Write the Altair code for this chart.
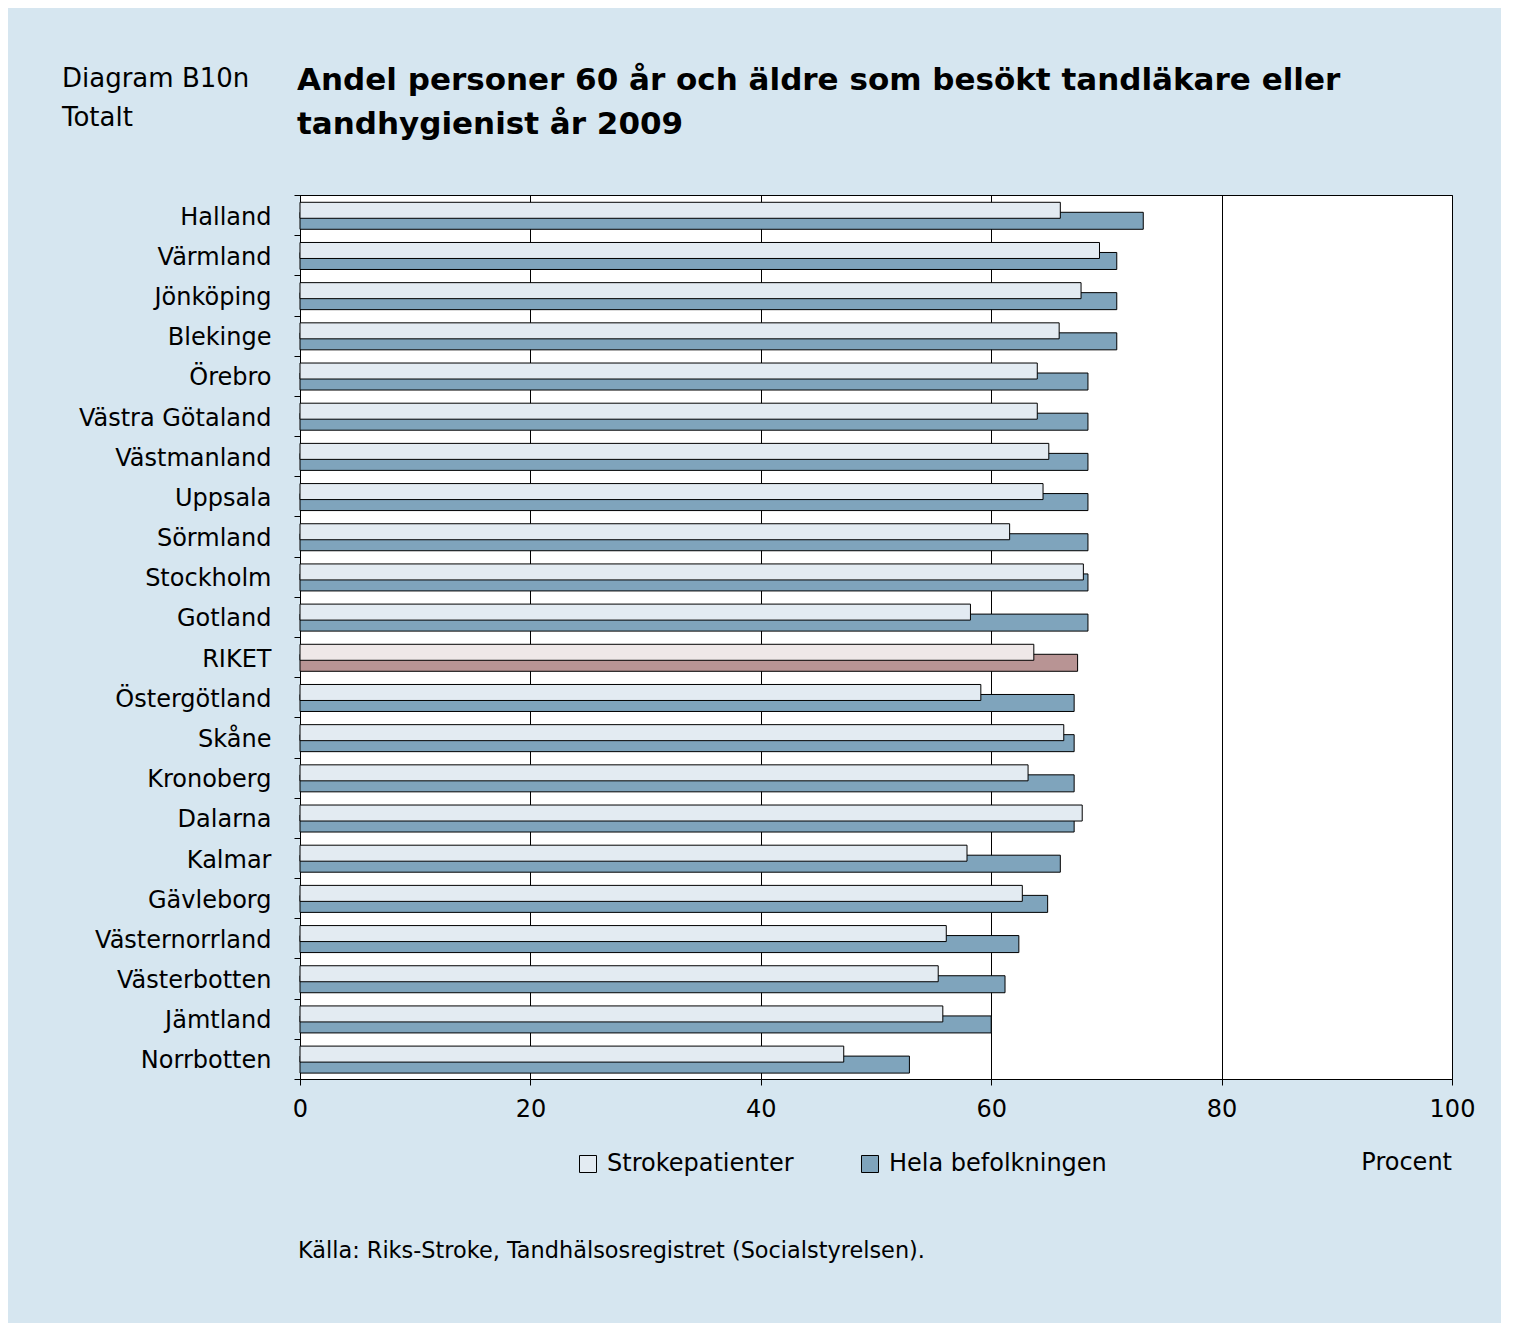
import altair as alt
import pandas as pd

regions = ["Halland", "Värmland", "Jönköping", "Blekinge", "Örebro", "Västra Götaland",
           "Västmanland", "Uppsala", "Sörmland", "Stockholm", "Gotland", "RIKET",
           "Östergötland", "Skåne", "Kronoberg", "Dalarna", "Kalmar", "Gävleborg",
           "Västernorrland", "Västerbotten", "Jämtland", "Norrbotten"]
stroke_vals = [66.0, 69.4, 67.8, 65.9, 64.0, 64.0, 65.0, 64.5, 61.6, 68.0, 58.2, 63.7,
               59.1, 66.3, 63.2, 67.9, 57.9, 62.7, 56.1, 55.4, 55.8, 47.2]
hela_vals = [73.2, 70.9, 70.9, 70.9, 68.4, 68.4, 68.4, 68.4, 68.4, 68.4, 68.4, 67.5,
             67.2, 67.2, 67.2, 67.2, 66.0, 64.9, 62.4, 61.2, 60.0, 52.9]
series = ["Strokepatienter", "Hela befolkningen"]
x_ticks = [0, 20, 40, 60, 80, 100]

rows = []
for r, s, h in zip(regions, stroke_vals, hela_vals):
    suffix = " RIKET" if r == "RIKET" else ""
    rows.append({"region": r, "serie": series[0], "value": s, "key": series[0] + suffix})
    rows.append({"region": r, "serie": series[1], "value": h, "key": series[1] + suffix})
df = pd.DataFrame(rows)

FONT = "DejaVu Sans"
fill_scale = alt.Scale(
    domain=["Strokepatienter", "Hela befolkningen", "Strokepatienter RIKET", "Hela befolkningen RIKET"],
    range=["#e3ebf2", "#7fa4bc", "#efe8e8", "#b89494"],
)

x_enc = alt.X("value:Q", scale=alt.Scale(domain=[0, 100], nice=False),
              axis=alt.Axis(values=x_ticks, grid=True, gridColor="black", gridOpacity=1,
                            gridWidth=1, tickSize=6, tickColor="black", domainColor="black",
                            labelFontSize=24, labelFont=FONT, labelColor="black",
                            labelFlush=False, labelPadding=12, title=None))
y_enc = alt.Y("region:N", sort=regions, scale=alt.Scale(paddingInner=0, paddingOuter=0),
              axis=alt.Axis(title=None, tickBand="extent", tickSize=6, tickColor="black",
                            domainColor="black", labelFontSize=24, labelFont=FONT,
                            labelColor="black", labelPadding=23, labelLimit=0,
                            labelOffset=2))
fill_enc = alt.Fill("key:N", scale=fill_scale,
                    legend=alt.Legend(values=series, orient="none", legendX=276, legendY=957,
                                      direction="horizontal", title=None, symbolType="square",
                                      symbolSize=289, symbolStrokeColor="black",
                                      symbolStrokeWidth=1, symbolOpacity=1,
                                      labelFontSize=24, labelFont=FONT, labelColor="black",
                                      labelLimit=0, labelOffset=7, columnPadding=64))

base = alt.Chart(df)
hela_bars = base.transform_filter(alt.datum.serie == series[1]).mark_bar(
    size=17, yOffset=5.7, stroke="black", strokeWidth=1, opacity=1
).encode(x=x_enc, y=y_enc, fill=fill_enc)
stroke_bars = base.transform_filter(alt.datum.serie == series[0]).mark_bar(
    size=16, yOffset=-4.8, stroke="black", strokeWidth=1, opacity=1
).encode(x=x_enc, y=y_enc, fill=fill_enc)

def text_layer(t, x, y, size, weight="normal", align="left", line_height=None):
    kw = dict(font=FONT, fontSize=size, fontWeight=weight, align=align,
              baseline="middle", color="black")
    if line_height:
        kw["lineHeight"] = line_height
    return alt.Chart(pd.DataFrame({"t": [t]})).mark_text(**kw).encode(
        text="t:N", x=alt.value(x), y=alt.value(y))

diag = text_layer(["Diagram B10n", "Totalt"], -238, -116, 26, line_height=39)
title = text_layer(["Andel personer 60 år och äldre som besökt tandläkare eller",
                    "tandhygienist år 2009"], -3, -114, 31, weight="bold", line_height=44)
procent = text_layer("Procent", 1152, 968, 24, align="right")
source = text_layer("Källa: Riks-Stroke, Tandhälsosregistret (Socialstyrelsen).", -2, 1056, 22.4)

chart = alt.layer(hela_bars, stroke_bars, diag, title, procent, source).properties(
    width=1152, height=884,
    autosize=alt.AutoSizeParams(type="none"),
    padding={"left": 292, "top": 187, "right": 49, "bottom": 244},
    background="#d6e6f0",
).configure_view(fill="white", stroke="black", strokeWidth=1)

chart.save("out.html", embed_options={"renderer": "svg", "actions": False})
